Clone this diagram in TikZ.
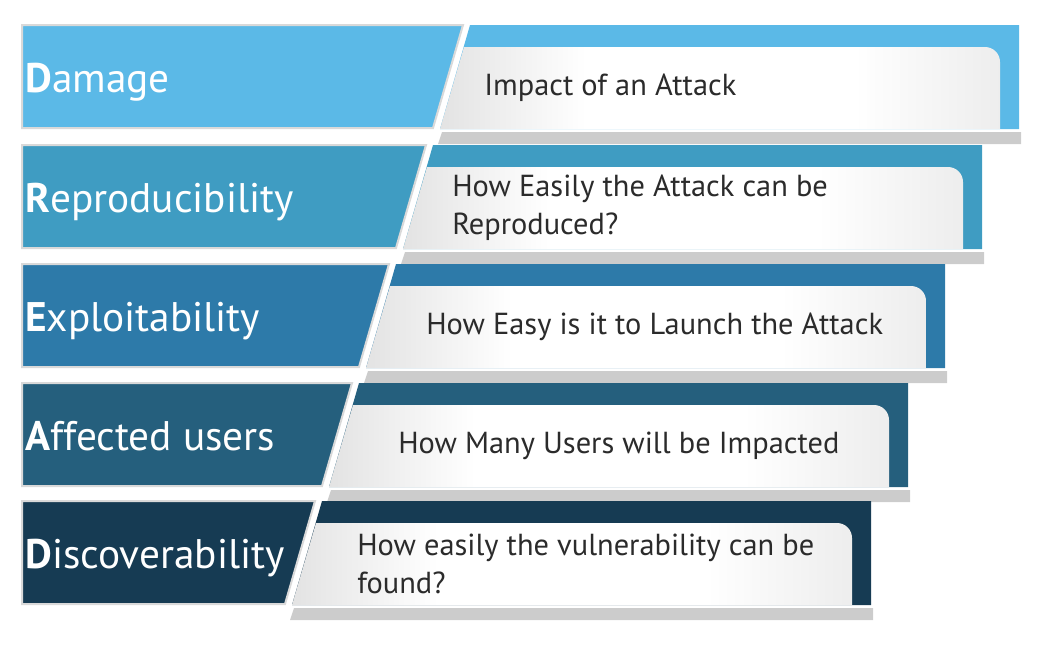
\documentclass[tikz,border=0pt]{standalone}
\usepackage{fontspec}
\setmainfont{PT Sans}
\definecolor{cA}{HTML}{5BB9E7}
\definecolor{cB}{HTML}{3F9CC2}
\definecolor{cC}{HTML}{2D7AA9}
\definecolor{cD}{HTML}{255F7D}
\definecolor{cE}{HTML}{163B53}
\definecolor{desctext}{HTML}{2B2B2B}
\definecolor{barcol}{HTML}{CCCCCC}
\definecolor{edgecol}{HTML}{D9D9D9}
\pgfdeclarehorizontalshading{cardshade}{100bp}{color(0bp)=(black!11); color(25bp)=(black!11); color(38bp)=(white); color(62bp)=(white); color(75bp)=(black!7); color(100bp)=(black!7)}
\tikzset{
  labeltext/.style={anchor=base west, inner sep=0pt, text=white, font=\fontsize{31}{34}\selectfont},
  desctextstyle/.style={anchor=west, inner sep=0pt, text=desctext, align=left, font=\fontsize{22.8}{28.5}\selectfont},
  leftbox/.style={draw=edgecol, line width=1.5pt},
  cardfill/.style={shading=cardshade},
}
\newcommand{\DRow}[9]{%
  % #1 name, #2 top, #3 T (slant top x), #4 R (right edge), #5 colour, #6 first letter, #7 rest, #8 description, #9 text x
  \fill[barcol] (#3-21,#2+107) -- (#4+2,#2+107) -- (#4+2,#2+119) -- (#3-25,#2+119) -- cycle;
  \fill[#5] (#3+7,#2) -- (#4,#2) -- (#4,#2+104) -- (#3-23,#2+104) -- cycle;
  \shade[cardfill] (#3+1,#2+22) -- (#4-34,#2+22) .. controls (#4-25.7,#2+22) and (#4-19,#2+28.7) .. (#4-19,#2+37) -- (#4-19,#2+104) -- (#3-23,#2+104) -- cycle;
  \filldraw[leftbox, fill=#5] (22,#2) -- (#3,#2) -- (#3-30,#2+103) -- (22,#2+103) -- cycle;
  \node[labeltext] (#1label) at (25,#2+67) {\textbf{#6}#7};
  \node[desctextstyle] (#1desc) at (#9,#2+63) {#8};
}
\begin{document}
\begin{tikzpicture}[x=0.75pt, y=-0.75pt]
\useasboundingbox (0,0) rectangle (1055,657);
\DRow{dmg}{25}{463}{1019}{cA}{D}{amage}{Impact of an Attack}{484}
\DRow{rep}{145}{426}{982}{cB}{R}{eproducibility}{How Easily the Attack can be\\Reproduced?}{452}
\DRow{exp}{264}{389}{945}{cC}{E}{xploitability}{How Easy is it to Launch the Attack}{426}
\DRow{aff}{383}{352}{908}{cD}{A}{ffected users}{How Many Users will be Impacted}{398}
\DRow{dis}{501}{315}{871}{cE}{D}{iscoverability}{How easily the vulnerability can be\\found?}{357}
\end{tikzpicture}
\end{document}
